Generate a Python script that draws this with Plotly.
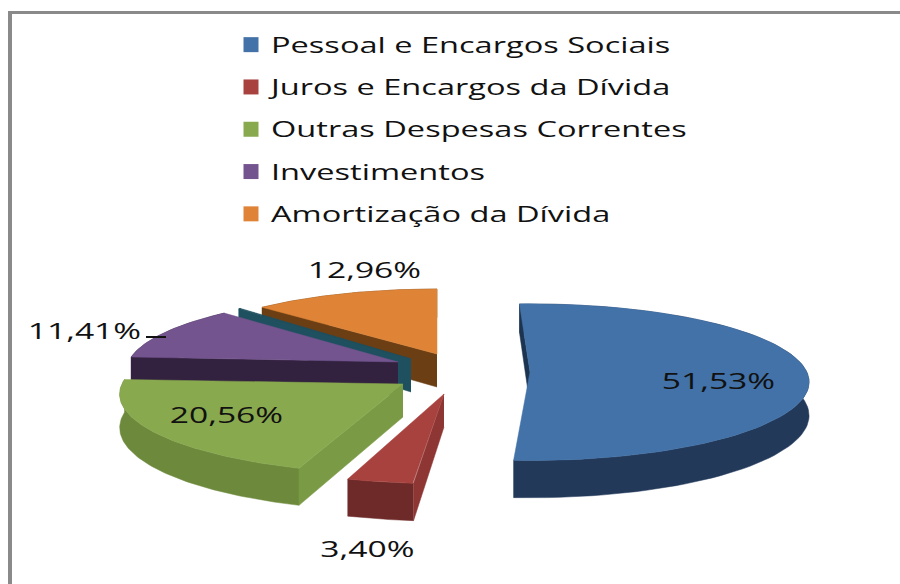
import numpy as np
import plotly.graph_objects as go

# --- data ---
categories = ["Pessoal e Encargos Sociais", "Juros e Encargos da Dívida",
              "Outras Despesas Correntes", "Investimentos", "", "Amortização da Dívida"]
values = [51.53, 3.40, 20.56, 11.41, 0.14, 12.96]
value_labels = ["51,53%", "3,40%", "20,56%", "11,41%", "", "12,96%"]

# --- styles / layout of the 3D exploded pie ---
top_colors = ["#4272a8", "#a8423f", "#89a94f", "#74548f", "#1f5060", "#df8437"]
arc_colors = ["#22395a", "#6e2a29", "#6d8a3c", "#32213f", "#1f5060", "#6b3e14"]
wall_colors = ["#1d3450", "#8d3634", "#7a9a45", "#32213f", "#1f5060", "#6b3e14"]
apex = [(530, 372), (444, 394), (403, 384), (398, 362), (411, 359), (437, 354)]
radius = [0.985, 1.0, 1.0, 0.96, 0.97, 0.94]
rotation = [-2.5, 0, 1.5, 2, 3, 0]
draw_order = [5, 4, 3, 2, 1, 0]
label_pos = [(718, 381), (367, 549), (226, 415), (84, 331), None, (364, 270)]
RX, RY, P, DEPTH = 281, 79.5, 0.13, 33
W, H = 900, 584


def project(c, theta, scale):
    s = 1 - P * np.cos(theta)
    return (c[0] + RX * scale * np.sin(theta) * s,
            c[1] - RY * scale * np.cos(theta) * s)


def poly(xs, ys, color):
    return go.Scatter(x=list(xs), y=list(ys), mode="lines", fill="toself", fillcolor=color,
                      line=dict(color=color, width=0.5), showlegend=False, hoverinfo="skip")


fig = go.Figure()

# real legend entries
for name, col in zip(categories, top_colors):
    if name:
        fig.add_trace(go.Scatter(x=[None], y=[None], mode="markers", name=name, legendgroup=name,
                                 marker=dict(symbol="square", size=15, color=col)))

edges = np.cumsum([0] + values) / sum(values) * 2 * np.pi
for i in draw_order:
    rot = np.radians(rotation[i])
    t = np.linspace(edges[i] + rot, edges[i + 1] + rot, 90)
    ax, ay = apex[i]
    x, y = project(apex[i], t, radius[i])
    d = DEPTH * (1 - P * np.cos(t))
    # outer rim
    fig.add_trace(poly(np.r_[x, x[::-1]], np.r_[y, (y + d)[::-1]], arc_colors[i]))
    # cut face on the starting edge
    fig.add_trace(poly([ax, x[0], x[0], ax], [ay, y[0], y[0] + d[0], ay + DEPTH],
                       wall_colors[i]))
    # top face
    fig.add_trace(poly(np.r_[ax, x, ax], np.r_[ay, y, ay], top_colors[i]))

annotations = [dict(x=p[0], y=p[1], text=lab, showarrow=False, xanchor="center", yanchor="middle",
                    font=dict(family="Open Sans", size=21, color="#111111"))
               for lab, p in zip(value_labels, label_pos) if p]

shapes = [
    dict(type="rect", x0=8, x1=12, y0=11, y1=H, fillcolor="#8a8a8a", line_width=0, layer="below"),
    dict(type="rect", x0=8, x1=W, y0=11, y1=14, fillcolor="#8a8a8a", line_width=0, layer="below"),
    dict(type="line", x0=146, x1=166, y0=337, y1=337, line=dict(color="#111111", width=2)),
]

fig.update_layout(
    width=W, height=H, margin=dict(l=0, r=0, t=0, b=0),
    paper_bgcolor="white", plot_bgcolor="white",
    xaxis=dict(range=[0, W], visible=False, fixedrange=True),
    yaxis=dict(range=[H, 0], visible=False, fixedrange=True),
    showlegend=True,
    legend=dict(x=231 / W, y=1 - 24.5 / H, xanchor="left", yanchor="top", tracegroupgap=12,
                itemwidth=30, entrywidth=460, entrywidthmode="pixels", bgcolor="rgba(0,0,0,0)",
                font=dict(family="Open Sans", size=21, color="#111111")),
    annotations=annotations, shapes=shapes,
)

# the reference text is horizontally stretched: widen the glyphs of the real text
post = """
(function(){
  document.documentElement.style.margin='0';
  document.body.style.margin='0';
  document.body.style.overflow='hidden';
  var gd=document.getElementById('{plot_id}');
  function stretch(){
    gd.querySelectorAll('.legend .scrollbox, .legend [clip-path]').forEach(function(n){
      n.removeAttribute('clip-path');
    });
    gd.querySelectorAll('text.legendtext, .annotation-text').forEach(function(t){
      if(t.dataset.w0===undefined){t.dataset.w0=t.getComputedTextLength();}
      var k=t.classList.contains('legendtext')?1.55:1.6;
      t.setAttribute('textLength',parseFloat(t.dataset.w0)*k);
      t.setAttribute('lengthAdjust','spacingAndGlyphs');
    });
  }
  stretch(); setTimeout(stretch,100);
})();
"""
fig.write_html("out.html", post_script=post, config={"displayModeBar": False})
